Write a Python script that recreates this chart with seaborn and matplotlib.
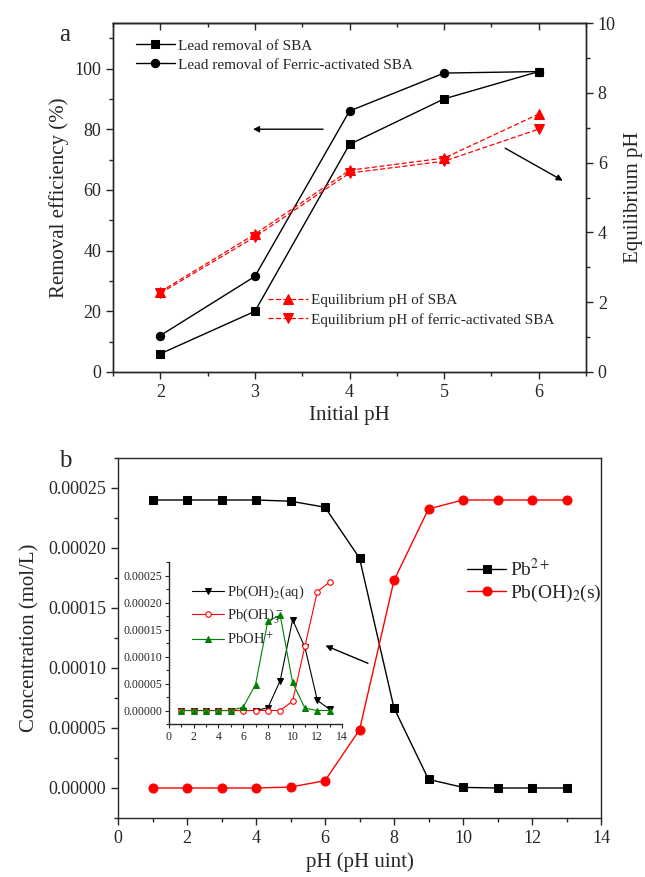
import numpy as np
import pandas as pd
import matplotlib
matplotlib.use("Agg")
import matplotlib.pyplot as plt
from matplotlib.ticker import MultipleLocator, FormatStrFormatter, NullFormatter
import seaborn as sns

sns.set_style("ticks")
plt.rcParams['font.family'] = ['Liberation Serif', 'DejaVu Serif']
plt.rcParams['mathtext.fontset'] = 'stix'
plt.rcParams['axes.linewidth'] = 1.0

# ---------------- Panel a data ----------------
initial_ph = [2, 3, 4, 5, 6]
removal_sba = [6, 20, 75, 90, 99]
removal_fe_sba = [12, 31.5, 86, 98.5, 99]
eq_ph_sba = [2.30, 3.95, 5.78, 6.13, 7.39]
eq_ph_fe_sba = [2.26, 3.87, 5.70, 6.04, 6.96]

# ---------------- Panel b data ----------------
ph_b = [1, 2, 3, 4, 5, 6, 7, 8, 9, 10, 11, 12, 13]
pb2 = [0.00024, 0.00024, 0.00024, 0.00024, 0.000239, 0.000234, 0.0001916,
       0.0000667, 0.0000072, 0.0000005, 0.0, 0.0, 0.0]
pboh2_s = [0.0, 0.0, 0.0, 0.0, 0.0000008, 0.0000061, 0.0000484, 0.000173,
           0.0002326, 0.00024, 0.00024, 0.00024, 0.00024]
# inset
pboh2_aq = [0.0, 0.0, 0.0, 0.0, 0.0, 0.0, 0.0, 0.0000049, 0.0000554,
            0.000168, 0.000117, 0.000019, 0.000002]
pboh3 = [0.0, 0.0, 0.0, 0.0, 0.0, 0.0, 0.0, 0.0, 0.0, 0.0000172, 0.000119,
         0.00022, 0.000238]
pboh = [0.0, 0.0, 0.0, 0.0, 0.0, 0.0000062, 0.0000478, 0.000166, 0.000176,
        0.000052, 0.0000043, 0.0, 0.0]

W, H = 645, 877
fig = plt.figure(figsize=(W / 100, H / 100), dpi=100)


def rect(l, t, r, b):
    return [l / W, 1 - b / H, (r - l) / W, (b - t) / H]


# =============== Panel a ===============
ax = fig.add_axes(rect(113, 23, 586, 372))
ax2 = ax.twinx()

sns.lineplot(x=initial_ph, y=removal_sba, ax=ax, color='black', lw=1,
             marker='s', markersize=6, markeredgecolor='black',
             label='Lead removal of SBA')
sns.lineplot(x=initial_ph, y=removal_fe_sba, ax=ax, color='black', lw=1,
             marker='o', markersize=6, markeredgecolor='black',
             label='Lead removal of Ferric-activated SBA')

sns.lineplot(x=initial_ph, y=eq_ph_sba, ax=ax2, color='red', lw=0.9,
             linestyle=(0, (4, 2)), marker='^', markersize=7,
             markeredgecolor='red', label='Equilibrium pH of SBA')
sns.lineplot(x=initial_ph, y=eq_ph_fe_sba, ax=ax2, color='red', lw=0.9,
             linestyle=(0, (4, 2)), marker='v', markersize=7,
             markeredgecolor='red', label='Equilibrium pH of ferric-activated SBA')

ax.set_xlim(1.5, 6.5)
ax.set_ylim(0, 115)
ax2.set_ylim(0, 10)
ax.xaxis.set_major_locator(MultipleLocator(1))
ax.xaxis.set_minor_locator(MultipleLocator(0.5))
ax.yaxis.set_major_locator(MultipleLocator(20))
ax.yaxis.set_minor_locator(MultipleLocator(10))
ax2.yaxis.set_major_locator(MultipleLocator(2))
ax2.yaxis.set_minor_locator(MultipleLocator(1))

ax.tick_params(axis='both', which='major', direction='out', length=5,
               width=1, labelsize=13)
ax.tick_params(axis='both', which='minor', direction='out', length=3, width=1)
ax2.tick_params(axis='y', which='major', direction='out', length=5,
                width=1, labelsize=13)
ax2.tick_params(axis='y', which='minor', direction='out', length=3, width=1)
for sp in ax.spines.values():
    sp.set_visible(True)
for sp in ax2.spines.values():
    sp.set_visible(True)

# inward ticks on the top spine
topx = ax.secondary_xaxis('top')
topx.xaxis.set_major_locator(MultipleLocator(1))
topx.xaxis.set_minor_locator(MultipleLocator(0.5))
topx.xaxis.set_major_formatter(NullFormatter())
topx.tick_params(which='major', direction='in', length=5, width=1)
topx.tick_params(which='minor', direction='in', length=3, width=1)

ax.set_xlabel('Initial pH', fontsize=15, labelpad=4)
ax.set_ylabel('Removal efficiency (%)', fontsize=15, labelpad=4)
ax2.set_ylabel('Equilibrium pH', fontsize=15, labelpad=6)

leg1 = ax.legend(loc='upper left', bbox_to_anchor=(0.025, 0.985),
                 frameon=False, fontsize=11, handlelength=2.6,
                 handletextpad=0.2, labelspacing=0.35, borderpad=0.2)
leg2 = ax2.legend(loc='upper left', bbox_to_anchor=(0.305, 0.255),
                  frameon=False, fontsize=11, handlelength=2.6,
                  handletextpad=0.2, labelspacing=0.35, borderpad=0.2)

ax.annotate('', xy=(2.95, 80), xytext=(3.75, 80),
            arrowprops=dict(arrowstyle='-|>', color='black', lw=1,
                            mutation_scale=9))
ax.annotate('', xy=(6.28, 62.6), xytext=(5.62, 74.2),
            arrowprops=dict(arrowstyle='-|>', color='black', lw=1,
                            mutation_scale=9))

fig.text(65 / W, 1 - 35 / H, 'a', fontsize=18, ha='center', va='center')

# =============== Panel b ===============
bx = fig.add_axes(rect(118, 458, 601, 818))
sns.lineplot(x=ph_b, y=pb2, ax=bx, color='black', lw=1, marker='s',
             markersize=6, markeredgecolor='black', label='Pb$^{2+}$')
sns.lineplot(x=ph_b, y=pboh2_s, ax=bx, color='red', lw=1, marker='o',
             markersize=6.5, markeredgecolor='red', label='Pb(OH)$_2$(s)')
bx.set_xlim(0, 14)
bx.set_ylim(-0.000025, 0.000275)
bx.xaxis.set_major_locator(MultipleLocator(2))
bx.xaxis.set_minor_locator(MultipleLocator(1))
bx.yaxis.set_major_locator(MultipleLocator(0.00005))
bx.yaxis.set_minor_locator(MultipleLocator(0.000025))
bx.yaxis.set_major_formatter(FormatStrFormatter('%.5f'))
bx.tick_params(axis='both', which='major', direction='out', length=5,
               width=1, labelsize=13)
bx.tick_params(axis='both', which='minor', direction='out', length=3, width=1)
bx.set_xlabel('pH (pH uint)', fontsize=15, labelpad=4)
bx.set_ylabel('Concentration (mol/L)', fontsize=15, labelpad=6)
bx.legend(loc='upper left', bbox_to_anchor=(0.695, 0.76), frameon=False,
          fontsize=14, handlelength=2.0, handletextpad=0.2,
          labelspacing=0.15, borderpad=0.2)
bx.annotate('', xy=(5.94, 0.0001196), xytext=(7.32, 0.000103),
            arrowprops=dict(arrowstyle='-|>', color='black', lw=1,
                            mutation_scale=9))
fig.text(65 / W, 1 - 461 / H, 'b', fontsize=18, ha='center', va='center')

# inset
ix = fig.add_axes(rect(169, 562, 342, 724))
ix.patch.set_alpha(0)
sns.lineplot(x=ph_b, y=pboh2_aq, ax=ix, color='black', lw=0.8, marker='v',
             markersize=4, markeredgecolor='black', label='Pb(OH)$_2$(aq)')
sns.lineplot(x=ph_b, y=pboh3, ax=ix, color='red', lw=0.8, marker='o',
             markersize=4, markerfacecolor='white', markeredgecolor='red',
             markeredgewidth=0.8, label='Pb(OH)$_3^-$')
sns.lineplot(x=ph_b, y=pboh, ax=ix, color='green', lw=0.8, marker='^',
             markersize=4, markeredgecolor='green', label='PbOH$^+$')
ix.set_xlim(0, 14)
ix.set_ylim(-0.000025, 0.000275)
ix.xaxis.set_major_locator(MultipleLocator(2))
ix.xaxis.set_minor_locator(MultipleLocator(1))
ix.yaxis.set_major_locator(MultipleLocator(0.00005))
ix.yaxis.set_minor_locator(MultipleLocator(0.000025))
ix.yaxis.set_major_formatter(FormatStrFormatter('%.5f'))
ix.spines['top'].set_visible(False)
ix.spines['right'].set_visible(False)
ix.tick_params(axis='both', which='major', direction='out', length=3,
               width=0.8, labelsize=8.5, pad=2)
ix.tick_params(axis='both', which='minor', direction='out', length=2,
               width=0.8)
ix.set_xlabel('')
ix.set_ylabel('')
ix.legend(loc='upper left', bbox_to_anchor=(0.08, 0.92), frameon=False,
          fontsize=10.5, handlelength=2.2, handletextpad=0.2,
          labelspacing=0.38, borderpad=0.1)

fig.savefig('out.png', dpi=100)
